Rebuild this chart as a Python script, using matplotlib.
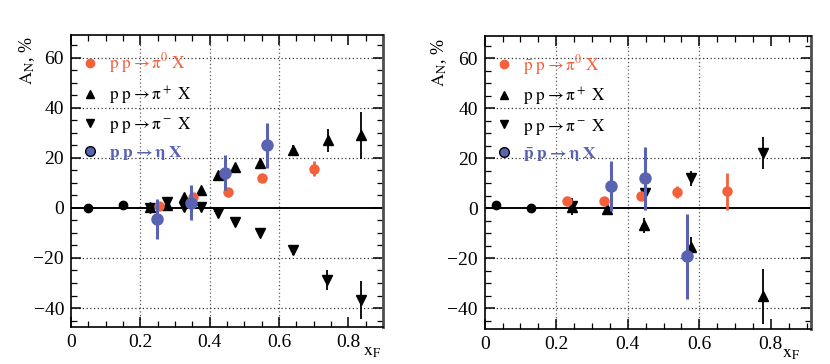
import numpy as np
import matplotlib
matplotlib.use("Agg")
import matplotlib.pyplot as plt
from matplotlib.ticker import MultipleLocator
from matplotlib.lines import Line2D

plt.rcParams['font.family'] = ['Liberation Serif', 'DejaVu Serif']
plt.rcParams['mathtext.fontset'] = 'stix'

ORANGE = '#f4603a'
BLUE = '#5a62b2'

# ---- left panel: p p collisions ----
L_low_x = [0.049, 0.15]
L_low_y = [0.0, 1.0]

L_pi0_x = [0.253, 0.351, 0.452, 0.550, 0.700]
L_pi0_y = [0.8, 4.4, 6.4, 12.0, 15.6]
L_pi0_e = [0.8, 1.0, 1.0, 1.0, 3.0]

L_eta_x = [0.247, 0.345, 0.443, 0.564]
L_eta_y = [-4.4, 2.0, 14.0, 25.0]
L_eta_e = [8.0, 7.0, 7.0, 9.0]

L_pip_x = [0.227, 0.276, 0.325, 0.374, 0.423, 0.472, 0.544, 0.639, 0.740, 0.837]
L_pip_y = [0.4, 1.0, 4.4, 7.2, 13.0, 16.4, 18.0, 23.2, 27.0, 29.0]
L_pip_e = [0.8, 0.8, 0.8, 0.8, 1.0, 1.0, 1.2, 2.0, 4.6, 9.5]

L_pim_x = [0.227, 0.276, 0.325, 0.374, 0.423, 0.472, 0.544, 0.639, 0.737, 0.837]
L_pim_y = [0.0, 2.4, 0.4, 0.4, -2.0, -5.6, -10.0, -17.0, -28.8, -36.8]
L_pim_e = [0.8, 0.8, 0.8, 0.8, 1.0, 1.0, 1.2, 2.0, 4.0, 7.5]

# ---- right panel: pbar p collisions ----
R_low_x = [0.031, 0.13]
R_low_y = [1.2, 0.0]

R_pi0_x = [0.230, 0.333, 0.436, 0.537, 0.677]
R_pi0_y = [2.8, 2.8, 4.8, 6.4, 6.8]
R_pi0_e = [1.0, 1.0, 1.2, 2.5, 7.4]

R_eta_x = [0.352, 0.448, 0.566]
R_eta_y = [8.8, 12.0, -19.2]
R_eta_e = [10.0, 12.6, 17.0]

R_pip_x = [0.243, 0.341, 0.445, 0.576, 0.778]
R_pip_y = [0.4, -0.4, -6.8, -15.6, -35.2]
R_pip_e = [3.0, 1.0, 3.0, 4.0, 11.0]

R_pim_x = [0.243, 0.448, 0.576, 0.778]
R_pim_y = [1.0, 6.0, 12.0, 22.0]
R_pim_e = [3.0, 1.5, 3.0, 6.4]

L_labels = [r'$\mathrm{p\ p \rightarrow \pi^0\ X}$',
            r'$\mathrm{p\ p \rightarrow \pi^+\ X}$',
            r'$\mathrm{p\ p \rightarrow \pi^-\ X}$',
            r'$\mathbf{p\ p \rightarrow \eta\ X}$']
R_labels = [r'$\mathrm{\bar{p}\ p \rightarrow \pi^0\ X}$',
            r'$\mathrm{p\ p \rightarrow \pi^+\ X}$',
            r'$\mathrm{p\ p \rightarrow \pi^-\ X}$',
            r'$\mathbf{\bar{p}\ p \rightarrow \eta\ X}$']


def draw_panel(ax, low, pi0, eta, pip, pim, labels, xmax, ymin, ymax, xlab_x):
    # grid and zero line
    for gx in [0.2, 0.4, 0.6]:
        ax.axvline(gx, color='0.35', lw=0.9, ls=(0, (1, 2)), zorder=0)
    for gy in [-40, -20, 20, 40, 60]:
        ax.axhline(gy, color='0.2', lw=0.9, ls=(0, (1, 2)), zorder=0)
    ax.axhline(0, color='black', lw=1.4, zorder=1)

    ax.plot(low[0], low[1], 'o', color='black', ms=6, zorder=3)
    ax.errorbar(pip[0], pip[1], yerr=pip[2], fmt='^', color='black', ms=6.5,
                elinewidth=1.3, capsize=0, zorder=3)
    ax.errorbar(pim[0], pim[1], yerr=pim[2], fmt='v', color='black', ms=6.5,
                elinewidth=1.3, capsize=0, zorder=3)
    ax.errorbar(pi0[0], pi0[1], yerr=pi0[2], fmt='o', color=ORANGE, ms=6.5,
                elinewidth=2, capsize=0, zorder=4)
    ax.errorbar(eta[0], eta[1], yerr=eta[2], fmt='o', color=BLUE, ms=8,
                elinewidth=2.2, capsize=0, zorder=5)

    handles = [Line2D([], [], ls='none', marker='o', color=ORANGE, ms=6),
               Line2D([], [], ls='none', marker='^', color='black', ms=6),
               Line2D([], [], ls='none', marker='v', color='black', ms=6),
               Line2D([], [], ls='none', marker='o', color=BLUE, mec='black', ms=7)]
    ax.legend(handles, labels, loc='upper left', frameon=False, fontsize=12.5,
              labelcolor=[ORANGE, 'black', 'black', BLUE], handlelength=0.8,
              handletextpad=0.7, labelspacing=0.5, borderaxespad=0.3,
              bbox_to_anchor=(0.0, 0.985))

    ax.set_xlim(0, xmax)
    ax.set_ylim(ymin, ymax)
    ax.set_xticks([0, 0.2, 0.4, 0.6, 0.8])
    ax.set_xticklabels(['0', '0.2', '0.4', '0.6', '0.8'])
    ax.set_yticks([-40, -20, 0, 20, 40, 60])
    ax.xaxis.set_minor_locator(MultipleLocator(0.05))
    ax.yaxis.set_minor_locator(MultipleLocator(5))
    ax.tick_params(which='both', direction='in', top=True, right=True,
                   labelsize=14, pad=5)
    ax.tick_params(which='major', length=7, width=1.1)
    ax.tick_params(which='minor', length=4, width=0.9)
    for s in ax.spines.values():
        s.set_linewidth(1.2)
    ax.spines['right'].set_linewidth(2)
    ax.spines['right'].set_color('0.3')

    ax.set_ylabel(r'$\mathrm{A_N}$, %', fontsize=13, labelpad=0)
    ax.yaxis.set_label_coords(-0.11, 0.91)
    ax.text(xlab_x, -0.055, r'$\mathrm{x_F}$', transform=ax.transAxes,
            fontsize=13, ha='left', va='top')


fig = plt.figure(figsize=(8.3, 3.64), dpi=100)
ax1 = fig.add_axes([0.0855, 0.1016, 0.376, 0.8025])
ax2 = fig.add_axes([0.584, 0.096, 0.393, 0.805])

draw_panel(ax1, (L_low_x, L_low_y), (L_pi0_x, L_pi0_y, L_pi0_e),
           (L_eta_x, L_eta_y, L_eta_e), (L_pip_x, L_pip_y, L_pip_e),
           (L_pim_x, L_pim_y, L_pim_e), L_labels, 0.9, -47.6, 69.2, 0.935)
draw_panel(ax2, (R_low_x, R_low_y), (R_pi0_x, R_pi0_y, R_pi0_e),
           (R_eta_x, R_eta_y, R_eta_e), (R_pip_x, R_pip_y, R_pip_e),
           (R_pim_x, R_pim_y, R_pim_e), R_labels, 0.912, -48.4, 68.8, 0.912)

fig.savefig('out.png', dpi=100)
